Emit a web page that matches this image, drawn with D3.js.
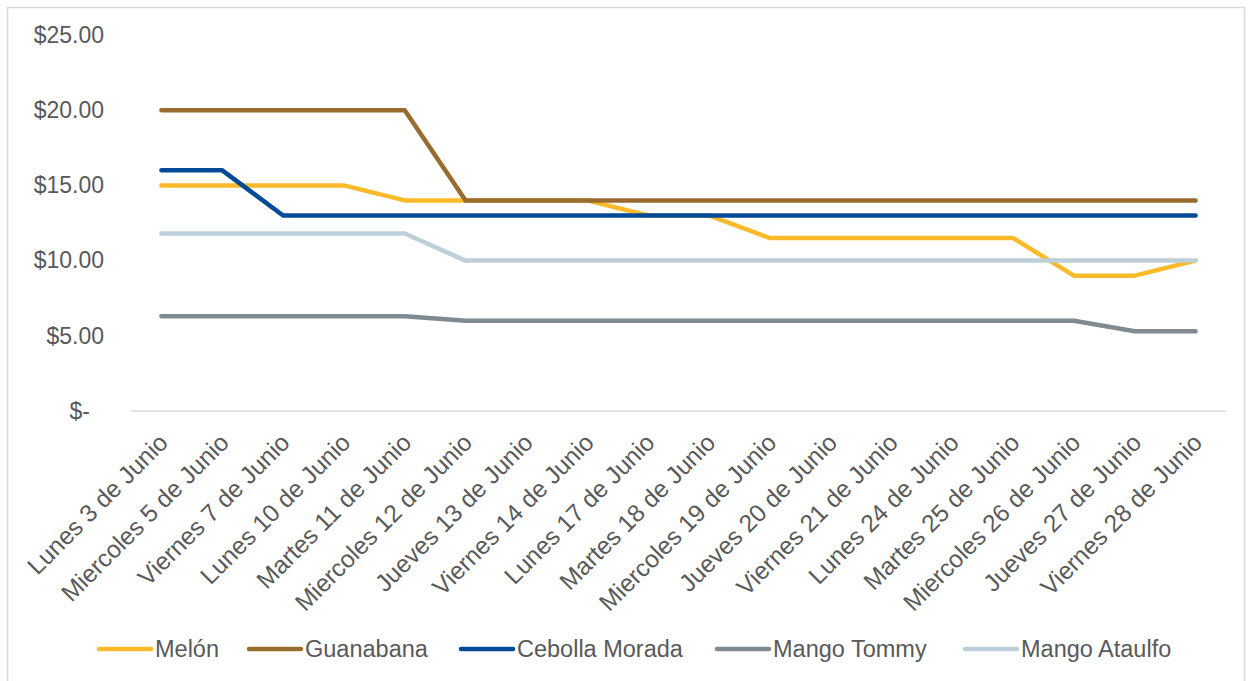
<!DOCTYPE html>
<html lang="es">
<head>
<meta charset="UTF-8">
<title>Precios Junio</title>
<script src="https://d3js.org/d3.v7.min.js"></script>
<style>
    body { margin: 0; background: #fff; font-family: Arial, "Liberation Sans", sans-serif; }
    .tick text, .legend text { fill: #595959; font-size: 23px; }
    .x-axis .tick text { font-size: 24.5px; }
    .legend text { font-size: 23.5px; }
</style>
</head>
<body>
<svg id="chart" width="1250" height="681"></svg>
<script>
    const dates = ["Lunes 3 de Junio", "Miercoles 5 de Junio", "Viernes 7 de Junio", "Lunes 10 de Junio",
        "Martes 11 de Junio", "Miercoles 12 de Junio", "Jueves 13 de Junio", "Viernes 14 de Junio",
        "Lunes 17 de Junio", "Martes 18 de Junio", "Miercoles 19 de Junio", "Jueves 20 de Junio",
        "Viernes 21 de Junio", "Lunes 24 de Junio", "Martes 25 de Junio", "Miercoles 26 de Junio",
        "Jueves 27 de Junio", "Viernes 28 de Junio"];

    const melon      = [15, 15, 15, 15, 14, 14, 14, 14, 13, 13, 11.5, 11.5, 11.5, 11.5, 11.5, 9, 9, 10];
    const guanabana  = [20, 20, 20, 20, 20, 14, 14, 14, 14, 14, 14, 14, 14, 14, 14, 14, 14, 14];
    const cebolla    = [16, 16, 13, 13, 13, 13, 13, 13, 13, 13, 13, 13, 13, 13, 13, 13, 13, 13];
    const mangoTommy = [6.3, 6.3, 6.3, 6.3, 6.3, 6, 6, 6, 6, 6, 6, 6, 6, 6, 6, 6, 5.3, 5.3];
    const mangoAtaulfo = [11.8, 11.8, 11.8, 11.8, 11.8, 10, 10, 10, 10, 10, 10, 10, 10, 10, 10, 10, 10, 10];

    const yTicks = [0, 5, 10, 15, 20, 25];

    const series = [
        { name: "Melón", values: melon, color: "#FBBA2A" },
        { name: "Guanabana", values: guanabana, color: "#996B2F" },
        { name: "Cebolla Morada", values: cebolla, color: "#004A98" },
        { name: "Mango Tommy", values: mangoTommy, color: "#7F8A91" },
        { name: "Mango Ataulfo", values: mangoAtaulfo, color: "#BDD0D9" }
    ];

    const svg = d3.select("#chart");
    const margin = { top: 35, right: 24, left: 131 };
    const plotRight = 1226, plotBottom = 411;

    // chart border
    svg.append("rect")
        .attr("x", 7.5).attr("y", 7.5)
        .attr("width", 1237).attr("height", 690)
        .attr("fill", "none").attr("stroke", "#d9d9d9").attr("stroke-width", 1.5);

    const x = d3.scaleBand().domain(dates).range([margin.left, plotRight]);
    const y = d3.scaleLinear().domain([0, 25]).range([plotBottom, margin.top]);

    // y axis labels
    const yAxis = svg.append("g")
        .attr("transform", "translate(104,0)")
        .call(d3.axisLeft(y).tickValues(yTicks).tickSize(0).tickPadding(0)
            .tickFormat(d => d === 0 ? "$-" : "$" + d3.format(".2f")(d)));
    yAxis.select(".domain").remove();
    yAxis.selectAll(".tick text")
        .attr("font-family", null).attr("font-size", null)
        .attr("dx", d => d === 0 ? -14 : 0);

    // baseline
    svg.append("line")
        .attr("x1", margin.left).attr("x2", plotRight)
        .attr("y1", y(0)).attr("y2", y(0))
        .attr("stroke", "#d9d9d9").attr("stroke-width", 1.5);

    // x axis labels
    const xAxis = svg.append("g")
        .attr("class", "x-axis")
        .attr("transform", `translate(0,${plotBottom})`)
        .call(d3.axisBottom(x).tickSize(0).tickPadding(0));
    xAxis.select(".domain").remove();
    xAxis.selectAll(".tick text")
        .attr("font-family", null).attr("font-size", null)
        .attr("text-anchor", "end")
        .attr("y", 0).attr("dy", "0.35em")
        .attr("transform", "translate(2,27) rotate(-45)");

    const line = d3.line()
        .x((d, i) => x(dates[i]) + x.bandwidth() / 2)
        .y(d => y(d));

    svg.append("g").selectAll("path")
        .data(series)
        .join("path")
        .attr("d", d => line(d.values))
        .attr("fill", "none")
        .attr("stroke", d => d.color)
        .attr("stroke-width", 4.5)
        .attr("stroke-linecap", "round")
        .attr("stroke-linejoin", "round");

    // legend
    const legendX = [97, 247, 459, 715, 963];
    const legend = svg.append("g").attr("class", "legend");
    const items = legend.selectAll("g").data(series).join("g")
        .attr("transform", (d, i) => `translate(${legendX[i]},649)`);
    items.append("line")
        .attr("x1", 2).attr("x2", 54)
        .attr("stroke", d => d.color).attr("stroke-width", 4.5)
        .attr("stroke-linecap", "round");
    items.append("text")
        .attr("x", 58).attr("dy", "0.35em")
        .text(d => d.name);
</script>
</body>
</html>
